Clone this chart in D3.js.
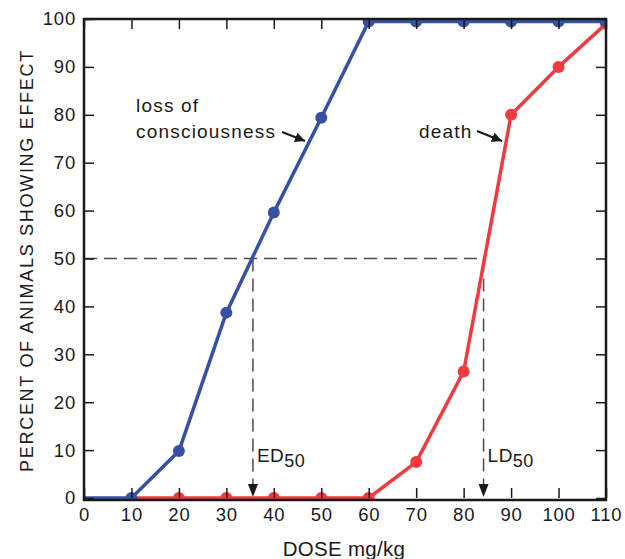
<!DOCTYPE html>
<html>
<head>
<meta charset="utf-8">
<script src="https://cdn.jsdelivr.net/npm/d3@7"></script>
<style>
body { margin: 0; background: #fff; }
text { font-family: "Liberation Sans", Arial, sans-serif; fill: #1a1a1a; }
</style>
</head>
<body>
<script>
var w = 625, h = 559;

// dose (mg/kg) and percent responding
var lossDose = [0, 10, 20, 30, 40, 50, 60, 70, 80, 90, 100, 110];
var lossPct = [0, 0, 9.8, 38.7, 59.6, 79.4, 99.5, 99.5, 99.5, 99.5, 99.5, 99.5];
var deathDose = [10, 20, 30, 40, 50, 60, 70, 80, 90, 100, 110];
var deathPct = [0, 0, 0, 0, 0, 0, 7.5, 26.4, 80, 90, 99];
var xTicks = [0, 10, 20, 30, 40, 50, 60, 70, 80, 90, 100, 110];
var yTicks = [0, 10, 20, 30, 40, 50, 60, 70, 80, 90, 100];
var ed50 = 35.6, ld50 = 84.2;

var x = d3.scaleLinear().domain([0, 110]).range([84, 606]);
var y = d3.scaleLinear().domain([0, 100]).range([498, 19]);

var svg = d3.select('body').append('svg')
    .attr('width', w)
    .attr('height', h);

var defs = svg.append('defs');
defs.append('marker')
    .attr('id', 'arr')
    .attr('viewBox', '0 0 10 10')
    .attr('refX', 10).attr('refY', 5)
    .attr('markerWidth', 10).attr('markerHeight', 10)
    .attr('markerUnits', 'userSpaceOnUse')
    .attr('orient', 'auto')
    .append('path')
    .attr('d', 'M0,0L10,5L0,10Z')
    .attr('fill', '#1a1a1a');
defs.append('clipPath')
    .attr('id', 'plot')
    .append('rect')
    .attr('x', x(0)).attr('y', y(100))
    .attr('width', x(110) - x(0))
    .attr('height', y(0) - y(100) + 1);

// dashed 50% guides
var dash = svg.append('g')
    .attr('stroke', '#4a4a4a')
    .attr('stroke-width', 1.5)
    .attr('stroke-dasharray', '13,7')
    .attr('fill', 'none');
dash.append('line')
    .attr('x1', x(0)).attr('x2', x(ld50))
    .attr('y1', y(50)).attr('y2', y(50));
[ed50, ld50].forEach(function(d) {
    dash.append('line')
        .attr('x1', x(d)).attr('x2', x(d))
        .attr('y1', y(50)).attr('y2', y(0) - 12);
});
[ed50, ld50].forEach(function(d) {
    svg.append('path')
        .attr('d', 'M' + (x(d) - 5) + ',' + (y(0) - 14) + 'L' + (x(d) + 5) + ',' + (y(0) - 14) + 'L' + x(d) + ',' + (y(0) - 1) + 'Z')
        .attr('fill', '#1a1a1a');
});

var line = d3.line()
    .x(function(d) { return x(d[0]); })
    .y(function(d) { return y(d[1]); });

var plot = svg.append('g').attr('clip-path', 'url(#plot)');

function series(doses, pcts, color, skipFirst) {
    var pts = d3.zip(doses, pcts);
    plot.append('path')
        .datum(pts)
        .attr('d', line)
        .attr('fill', 'none')
        .attr('stroke', color)
        .attr('stroke-width', 3.5)
        .attr('stroke-linejoin', 'round');
    plot.append('g').selectAll('circle')
        .data(skipFirst ? pts.slice(1) : pts)
        .enter().append('circle')
        .attr('cx', function(d) { return x(d[0]); })
        .attr('cy', function(d) { return y(d[1]); })
        .attr('r', 6)
        .attr('fill', color);
}

series(deathDose, deathPct, '#ee3b41', true);
series(lossDose, lossPct, '#3650a3', true);

// frame and inward ticks on all four sides
var ax = svg.append('g');
ax.append('g')
    .attr('transform', 'translate(' + x(0) + ',0)')
    .call(d3.axisLeft(y).tickValues(yTicks).tickSizeInner(-10).tickSizeOuter(0).tickPadding(8));
ax.append('g')
    .attr('transform', 'translate(0,' + y(0) + ')')
    .call(d3.axisBottom(x).tickValues(xTicks).tickSizeInner(-10).tickSizeOuter(0).tickPadding(10));
ax.append('g')
    .attr('transform', 'translate(0,' + y(100) + ')')
    .call(d3.axisTop(x).tickValues(xTicks).tickSizeInner(-10).tickSizeOuter(0).tickFormat(''));
ax.append('g')
    .attr('transform', 'translate(' + x(110) + ',0)')
    .call(d3.axisRight(y).tickValues(yTicks).tickSizeInner(-10).tickSizeOuter(0).tickFormat(''));
ax.selectAll('.domain').remove();
ax.selectAll('.tick line').attr('stroke', '#1a1a1a').attr('stroke-width', 1.5);
ax.selectAll('.tick text')
    .attr('fill', '#1a1a1a')
    .style('font-family', '"Liberation Sans", Arial, sans-serif')
    .style('font-size', '18.5px')
    .style('letter-spacing', '0.8px');

svg.append('rect')
    .attr('x', x(0)).attr('y', y(100))
    .attr('width', x(110) - x(0))
    .attr('height', y(0) - y(100) + 2)
    .attr('fill', 'none')
    .attr('stroke', '#1a1a1a')
    .attr('stroke-width', 2.5);

// axis titles
svg.append('text')
    .attr('transform', 'translate(27,' + (y(50) + 2) + ')rotate(-90)')
    .attr('text-anchor', 'middle')
    .attr('dy', '0.35em')
    .style('font-size', '18px')
    .style('letter-spacing', '1.7px')
    .text('PERCENT OF ANIMALS SHOWING EFFECT');
svg.append('text')
    .attr('x', 344)
    .attr('y', 556)
    .attr('text-anchor', 'middle')
    .style('font-size', '20.5px')
    .style('letter-spacing', '0.3px')
    .text('DOSE mg/kg');

// ED50 / LD50 labels
function subLabel(px, main) {
    var t = svg.append('text')
        .attr('x', px)
        .attr('y', y(0) - 36)
        .style('font-size', '19px')
        .style('letter-spacing', '0.5px');
    t.append('tspan').text(main);
    t.append('tspan').attr('dy', 5).style('font-size', '18px').text('50');
}
subLabel(x(ed50) + 4, 'ED');
subLabel(x(ld50) + 4, 'LD');

// curve labels with arrows
var lab = svg.append('g').style('font-size', '19px').style('letter-spacing', '1.2px');
lab.append('text').attr('x', 136).attr('y', 112).text('loss of');
lab.append('text').attr('x', 136).attr('y', 138).text('consciousness');
lab.append('text').attr('x', 419).attr('y', 138).text('death');
svg.append('line')
    .attr('x1', 282).attr('y1', 132).attr('x2', 305).attr('y2', 141)
    .attr('stroke', '#1a1a1a').attr('stroke-width', 2)
    .attr('marker-end', 'url(#arr)');
svg.append('line')
    .attr('x1', 477).attr('y1', 131).attr('x2', 502).attr('y2', 141)
    .attr('stroke', '#1a1a1a').attr('stroke-width', 2)
    .attr('marker-end', 'url(#arr)');
</script>
</body>
</html>
